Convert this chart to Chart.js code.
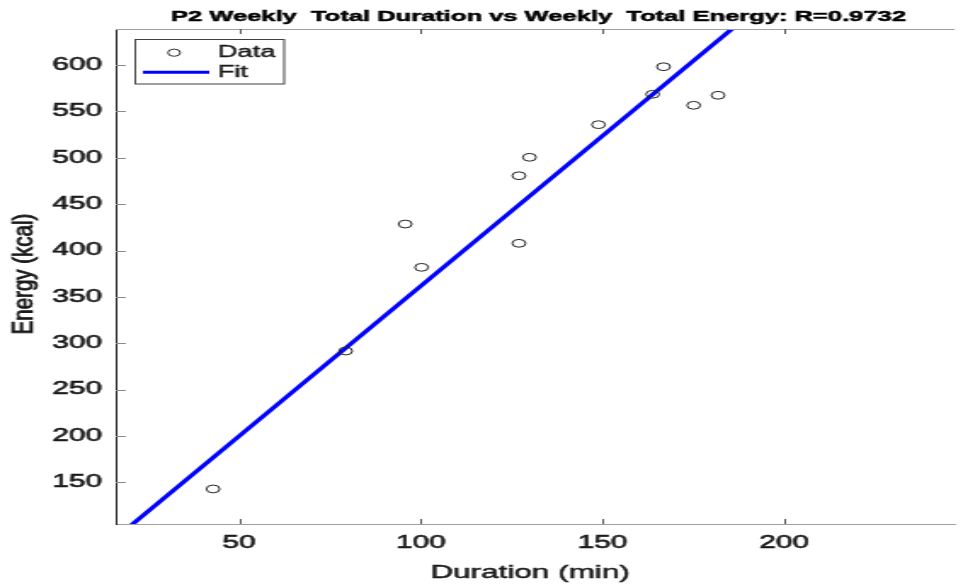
<!DOCTYPE html>
<html>
<head>
<meta charset="utf-8">
<title>P2 Weekly Total Duration vs Weekly Total Energy</title>
<script src="https://cdn.jsdelivr.net/npm/chart.js@4.4.1/dist/chart.umd.min.js"></script>
<style>
  html, body { margin: 0; padding: 0; background: #fff; }
  #energyChart { display: block; }
</style>
</head>
<body>
<!-- drawn narrow and stretched sideways, like the original figure -->
<canvas id="energyChart" width="566" height="585" style="width:963px;height:585px"></canvas>
<script>
// weekly totals
const durationMin = [42.8, 79.3, 95.7, 100.2, 127.0, 127.0, 129.9, 148.9, 163.8, 166.8, 175.1, 181.8];
const energyKcal = [142.8, 291.6, 428.6, 381.9, 407.8, 480.7, 500.6, 535.8, 568.6, 598.3, 556.7, 567.5];

// fit line ends (clipped by the axes box)
const fitX = [15, 190];
const fitY = [86.6, 653.2];

const xTicks = [50, 100, 150, 200];
const yTicks = [150, 200, 250, 300, 350, 400, 450, 500, 550, 600];

const titleText = 'P2 Weekly  Total Duration vs Weekly  Total Energy: R=0.9732';
const xTitle = 'Duration (min)';
const yTitle = 'Energy (kcal)';
const legendLabels = ['Data', 'Fit'];

const FONT = '"Liberation Sans", Arial, Helvetica, sans-serif';
const TEXT = '#1a1a1a';

// fill plus a thin stroke, the figure's text is a bit heavy
function heavyText(ctx, str, x, y, stroke) {
  ctx.fillText(str, x, y);
  ctx.lineWidth = stroke;
  ctx.strokeStyle = ctx.fillStyle;
  ctx.strokeText(str, x, y);
}

// title, axis labels, legend box and the inward ticks, MATLAB style
const matlabAxes = {
  id: 'matlabAxes',
  afterDraw(chart) {
    const ctx = chart.ctx;
    const area = chart.chartArea;
    const xs = chart.scales.x;
    const ys = chart.scales.y;
    ctx.save();

    // top edge of the box
    ctx.lineWidth = 1;
    ctx.strokeStyle = '#a0a0a0';
    ctx.beginPath();
    ctx.moveTo(area.left, Math.round(area.top) + 0.5);
    ctx.lineTo(area.right, Math.round(area.top) + 0.5);
    ctx.stroke();

    // ticks pointing in
    ctx.strokeStyle = '#555';
    xs.ticks.forEach(t => {
      const px = Math.round(xs.getPixelForValue(t.value)) + 0.5;
      ctx.beginPath();
      ctx.moveTo(px, area.bottom);
      ctx.lineTo(px, area.bottom - 5);
      ctx.moveTo(px, area.top);
      ctx.lineTo(px, area.top + 5);
      ctx.stroke();
    });
    ctx.strokeStyle = '#888';
    ys.ticks.forEach(t => {
      const py = Math.round(ys.getPixelForValue(t.value)) + 0.5;
      ctx.beginPath();
      ctx.moveTo(area.left, py);
      ctx.lineTo(area.left + 6, py);
      ctx.stroke();
    });

    // title
    ctx.fillStyle = '#000';
    ctx.font = 'bold 15px ' + FONT;
    ctx.textAlign = 'center';
    ctx.textBaseline = 'alphabetic';
    heavyText(ctx, titleText, (area.left + area.right) / 2 + 2, 21, 0.5);

    // x label
    ctx.fillStyle = TEXT;
    ctx.font = '18.5px ' + FONT;
    heavyText(ctx, xTitle, (area.left + area.right) / 2 - 3, 578, 0.5);

    // y label, squeezed across so it stays slim after the stretch
    ctx.save();
    ctx.translate(19, 274);
    ctx.rotate(-Math.PI / 2);
    ctx.scale(1, 0.78);
    ctx.fillStyle = TEXT;
    ctx.font = '20.5px ' + FONT;
    heavyText(ctx, yTitle, 0, 0, 0.8);
    ctx.restore();

    // legend
    const lx = 79, ly = 39.5, lw = 87.5, lh = 44.5;
    ctx.fillStyle = '#fff';
    ctx.fillRect(lx, ly, lw, lh);
    ctx.strokeStyle = '#404040';
    ctx.lineWidth = 1;
    ctx.strokeRect(lx + 0.5, ly, lw, lh);

    ctx.strokeStyle = '#333';
    ctx.beginPath();
    ctx.arc(102.3, 52.7, 3.6, 0, Math.PI * 2);
    ctx.stroke();

    ctx.strokeStyle = '#0000ff';
    ctx.lineWidth = 3;
    ctx.beginPath();
    ctx.moveTo(84, 72.3);
    ctx.lineTo(123, 72.3);
    ctx.stroke();

    ctx.fillStyle = TEXT;
    ctx.font = '16px ' + FONT;
    ctx.textAlign = 'left';
    heavyText(ctx, legendLabels[0], 128, 57.3, 0.4);
    heavyText(ctx, legendLabels[1], 128, 77.3, 0.4);

    ctx.restore();
  }
};

const ctx = document.getElementById('energyChart').getContext('2d');
const energyChart = new Chart(ctx, {
  type: 'scatter',
  data: {
    datasets: [{
      label: legendLabels[0],
      data: durationMin.map((d, i) => ({ x: d, y: energyKcal[i] })),
      pointStyle: 'circle',
      pointRadius: 3.9,
      pointBorderWidth: 1,
      pointBorderColor: '#222',
      pointBackgroundColor: 'rgba(0,0,0,0)',
      showLine: false,
      order: 1
    }, {
      label: legendLabels[1],
      data: fitX.map((d, i) => ({ x: d, y: fitY[i] })),
      showLine: true,
      borderColor: '#0000ff',
      borderWidth: 3.2,
      pointRadius: 0,
      fill: false,
      order: 2
    }]
  },
  options: {
    responsive: false,
    animation: false,
    devicePixelRatio: 1,
    layout: { padding: { top: 29, left: 0, right: 0, bottom: 0 } },
    plugins: {
      legend: { display: false },
      title: { display: false },
      tooltip: { enabled: false }
    },
    scales: {
      x: {
        type: 'linear',
        min: 16,
        max: 246.9,
        afterBuildTicks: s => { s.ticks = xTicks.map(v => ({ value: v })); },
        afterFit: s => { s.height = 61; },
        grid: { display: true, drawOnChartArea: false, drawTicks: false },
        border: { display: true, color: '#a0a0a0', width: 1 },
        ticks: {
          padding: 9,
          color: TEXT,
          textStrokeColor: TEXT,
          textStrokeWidth: 0.6,
          font: { family: FONT, size: 17.5 },
          maxRotation: 0
        }
      },
      y: {
        type: 'linear',
        min: 105,
        max: 639,
        afterBuildTicks: s => { s.ticks = yTicks.map(v => ({ value: v })); },
        afterFit: s => { s.width = 68; },
        grid: { display: true, drawOnChartArea: false, drawTicks: false },
        border: { display: true, color: '#262626', width: 1 },
        ticks: {
          padding: 8,
          color: TEXT,
          textStrokeColor: TEXT,
          textStrokeWidth: 0.6,
          font: { family: FONT, size: 17.5 }
        }
      }
    }
  },
  plugins: [matlabAxes]
});
</script>
</body>
</html>
